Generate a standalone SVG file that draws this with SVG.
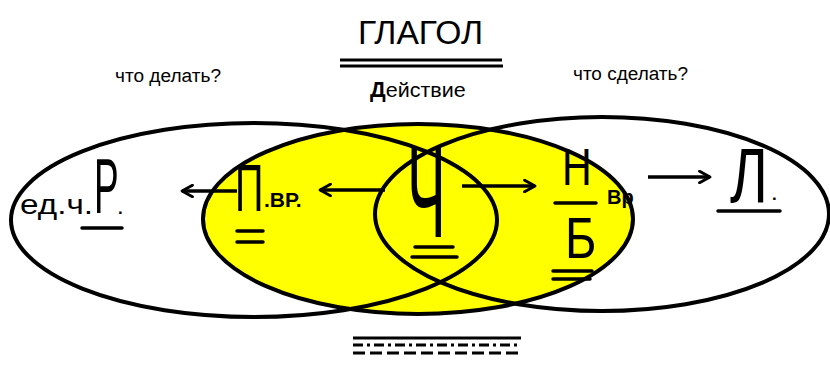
<svg xmlns="http://www.w3.org/2000/svg" width="830" height="367" viewBox="0 0 830 367">
<defs>
<style>
.ell{fill:none;stroke:#000;stroke-width:4}
.yel{fill:#ffff00;stroke:#000;stroke-width:4}
.ln{stroke:#000;stroke-width:3.5;stroke-linecap:round;fill:none}
.arr{stroke:#000;stroke-width:3.5;fill:none;marker-end:url(#ah)}
.t{font-family:"Liberation Sans",Arial,sans-serif;fill:#000}
.h{font-family:"Liberation Sans",Arial,sans-serif;fill:#000}
.b{font-family:"Liberation Sans",Arial,sans-serif;font-weight:bold;fill:#000}
</style>
<marker id="ah" viewBox="0 0 12 12" refX="10" refY="6" markerWidth="4" markerHeight="4" orient="auto" markerUnits="strokeWidth">
<path d="M1,1 L10,6 L1,11" fill="none" stroke="#000" stroke-width="2.4" stroke-linecap="round" stroke-linejoin="round"/>
</marker>
</defs>
<rect width="830" height="367" fill="#fff"/>

<g id="title">
<text class="t" x="358" y="44" font-size="34" textLength="125" lengthAdjust="spacingAndGlyphs">ГЛАГОЛ</text>
<line class="ln" x1="340" y1="60" x2="502" y2="60" style="stroke-linecap:butt;stroke-width:3"/>
<line class="ln" x1="340" y1="66" x2="503" y2="66" style="stroke-linecap:butt;stroke-width:3"/>
<text class="t" x="370" y="97" font-size="20"><tspan class="b" font-size="22">Д</tspan><tspan textLength="80" lengthAdjust="spacingAndGlyphs">ействие</tspan></text>
</g>

<g id="q-left"><text class="t" x="115" y="82" font-size="18" textLength="106" lengthAdjust="spacingAndGlyphs">что делать?</text></g>
<g id="q-right"><text class="t" x="573" y="80" font-size="18" textLength="115" lengthAdjust="spacingAndGlyphs">что сделать?</text></g>

<g id="ellipse-middle"><ellipse class="yel" cx="418" cy="219" rx="215" ry="95"/></g>
<g id="ellipse-left"><ellipse class="ell" cx="254" cy="220" rx="243" ry="97"/></g>
<g id="ellipse-right"><ellipse class="ell" cx="602" cy="214" rx="227" ry="97"/></g>

<g id="node-r">
<text class="t" x="20" y="214" font-size="28" textLength="73" lengthAdjust="spacingAndGlyphs">ед.ч.</text>
<text class="h" transform="translate(94,213) scale(0.48,1)" font-size="77">Р</text>
<text class="b" x="118" y="214" font-size="17">.</text>
<line class="ln" x1="82" y1="228" x2="122" y2="228"/>
</g>

<g id="node-p">
<text class="h" transform="translate(235,211) scale(0.59,1)" font-size="67">П</text>
<text class="b" x="264" y="207" font-size="21">.ВР.</text>
<line class="ln" x1="237" y1="231" x2="263" y2="231"/>
<line class="ln" x1="237" y1="242" x2="263" y2="242"/>
</g>

<g id="node-ch">
<text class="h" transform="translate(407,237) scale(0.44,1)" font-size="132">Ч</text>
<line class="ln" x1="415" y1="247" x2="453" y2="247"/>
<line class="ln" x1="412" y1="257" x2="457" y2="257"/>
</g>

<g id="node-nb">
<text class="h" transform="translate(562,185) scale(0.79,1)" font-size="52">Н</text>
<line class="ln" x1="555" y1="203" x2="596" y2="203"/>
<text class="h" transform="translate(565,258) scale(0.84,1)" font-size="57">Б</text>
<line class="ln" x1="553" y1="271" x2="592" y2="271"/>
<line class="ln" x1="553" y1="279" x2="590" y2="279"/>
<text class="b" x="607" y="204" font-size="20">Вр</text>
</g>

<g id="node-l">
<text class="h" transform="translate(730,202) scale(0.75,1)" font-size="77">Л</text>
<text class="b" x="772" y="200" font-size="17">.</text>
<line class="ln" x1="718" y1="211" x2="780" y2="211"/>
</g>

<g id="connectors">
<line class="arr" x1="237" y1="191" x2="182" y2="191"/>
<line class="arr" x1="385" y1="190" x2="320" y2="190"/>
<line class="arr" x1="462" y1="186" x2="535" y2="186"/>
<line class="arr" x1="648" y1="177" x2="710" y2="177"/>
</g>

<g id="bottom-lines">
<line x1="353" y1="338" x2="521" y2="338" stroke="#000" stroke-width="3"/>
<line x1="353" y1="345" x2="521" y2="345" stroke="#000" stroke-width="3" stroke-dasharray="10 4 3 4"/>
<line x1="353" y1="353" x2="521" y2="353" stroke="#000" stroke-width="3" stroke-dasharray="12 5"/>
</g>
</svg>
